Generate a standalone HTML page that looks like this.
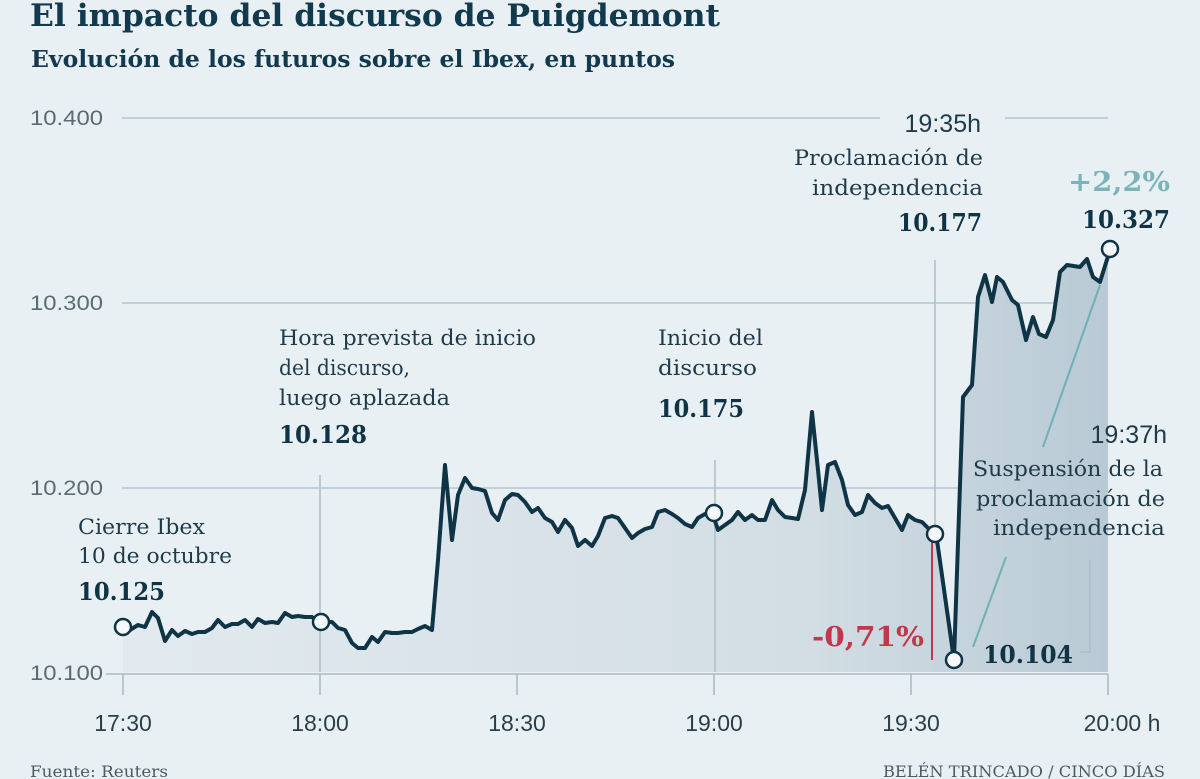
<!DOCTYPE html>
<html><head><meta charset="utf-8"><style>
html,body{margin:0;padding:0;background:#e9f0f4;}
svg{display:block}
.ser{font-family:"DejaVu Serif","Liberation Serif",serif;}
.san{font-family:"Liberation Sans","DejaVu Sans",sans-serif;}
</style></head><body>
<svg width="1200" height="779" viewBox="0 0 1200 779" xmlns="http://www.w3.org/2000/svg">
<defs>
<linearGradient id="g" x1="0" x2="1" y1="0" y2="0">
<stop offset="0" stop-color="#e2eaef"/><stop offset="0.7" stop-color="#d2dde4"/><stop offset="1" stop-color="#b9cad5"/>
</linearGradient>
</defs>
<rect width="1200" height="779" fill="#e9f0f4"/>
<text class="ser" x="30" y="26" font-size="31" font-weight="bold" fill="#123a4f" textLength="690" lengthAdjust="spacingAndGlyphs">El impacto del discurso de Puigdemont</text>
<text class="ser" x="31" y="67" font-size="23" font-weight="bold" fill="#123a4f" textLength="644" lengthAdjust="spacingAndGlyphs">Evolución de los futuros sobre el Ibex, en puntos</text>

<g stroke="#b3c5cf" stroke-width="1.5">
<line x1="122" y1="118" x2="880" y2="118"/><line x1="1005" y1="118" x2="1108" y2="118"/>
<line x1="122" y1="303" x2="1108" y2="303"/>
<line x1="122" y1="488" x2="1108" y2="488"/>
</g>
<g class="san" font-size="21" fill="#5a6b74">
<text x="30" y="125" textLength="73" lengthAdjust="spacingAndGlyphs">10.400</text><text x="30" y="310" textLength="73" lengthAdjust="spacingAndGlyphs">10.300</text><text x="30" y="495" textLength="73" lengthAdjust="spacingAndGlyphs">10.200</text><text x="30" y="680" textLength="73" lengthAdjust="spacingAndGlyphs">10.100</text>
</g>

<path fill="url(#g)" d="M123,627 L130,630 L138,625 L145,627 L152,612 L158,618 L165,641 L172,630 L178,636 L185,631 L192,634 L198,632 L205,632 L212,628 L218,620 L225,627 L232,624 L238,624 L245,620 L252,627 L258,619 L265,623 L272,622 L278,623 L285,613 L292,617 L298,616 L305,617 L312,617 L318,622 L325,622 L332,622 L338,628 L345,630 L352,643 L358,648 L365,648 L372,637 L378,642 L385,632 L392,633 L398,633 L405,632 L412,632 L418,629 L425,626 L432,630 L438,560 L445,465 L452,540 L458,495 L465,478 L472,488 L478,489 L485,491 L492,513 L498,520 L505,500 L512,494 L518,495 L525,502 L532,512 L538,508 L545,518 L552,522 L558,532 L565,520 L572,528 L578,546 L585,540 L592,546 L598,536 L605,518 L612,516 L618,518 L625,528 L632,538 L638,533 L645,529 L652,527 L658,512 L665,510 L672,514 L678,518 L685,524 L692,527 L698,518 L705,514 L712,512 L718,530 L725,525 L732,520 L738,512 L745,520 L752,515 L758,520 L765,520 L772,500 L778,510 L785,517 L792,518 L798,519 L805,490 L812,412 L818,470 L822,510 L828,465 L835,462 L842,480 L848,505 L855,515 L862,512 L868,495 L875,503 L882,508 L888,506 L895,518 L902,530 L908,515 L915,520 L922,522 L928,528 L936,533 L954,660 L963,397 L972,385 L978,297 L985,275 L992,302 L997,277 L1003,282 L1012,300 L1018,305 L1026,340 L1033,317 L1039,334 L1046,337 L1053,320 L1060,272 L1067,265 L1080,267 L1087,259 L1093,277 L1100,282 L1108,258 L1108,672 L123,672 Z"/>

<g stroke="#b0bec6" stroke-width="1.5" fill="none">
<line x1="320" y1="475" x2="320" y2="672"/>
<line x1="715" y1="460" x2="715" y2="672"/>
<line x1="935" y1="260" x2="935" y2="530"/>
<polyline points="1090,560 1090,652 1080,652"/>
</g>
<line x1="932" y1="540" x2="932" y2="660" stroke="#c0394b" stroke-width="2"/>
<g stroke="#6fb0b5" stroke-width="2">
<line x1="1043" y1="447" x2="1100" y2="285"/>
<line x1="973" y1="647" x2="1006" y2="557"/>
</g>

<g stroke="#aab9c2" stroke-width="1.5">
<line x1="106" y1="674" x2="1108" y2="674"/>
<line x1="123" y1="674" x2="123" y2="695"/><line x1="320" y1="674" x2="320" y2="695"/><line x1="517" y1="674" x2="517" y2="695"/><line x1="714" y1="674" x2="714" y2="695"/><line x1="911" y1="674" x2="911" y2="695"/><line x1="1108" y1="674" x2="1108" y2="695"/>
</g>
<g class="san" font-size="23" fill="#2b3f4b" text-anchor="middle">
<text x="123" y="731">17:30</text><text x="320" y="731">18:00</text><text x="517" y="731">18:30</text><text x="714" y="731">19:00</text><text x="911" y="731">19:30</text><text x="1122" y="731">20:00 h</text>
</g>

<path fill="none" stroke="#0e3446" stroke-width="4" stroke-linejoin="round" d="M123,627 L130,630 L138,625 L145,627 L152,612 L158,618 L165,641 L172,630 L178,636 L185,631 L192,634 L198,632 L205,632 L212,628 L218,620 L225,627 L232,624 L238,624 L245,620 L252,627 L258,619 L265,623 L272,622 L278,623 L285,613 L292,617 L298,616 L305,617 L312,617 L318,622 L325,622 L332,622 L338,628 L345,630 L352,643 L358,648 L365,648 L372,637 L378,642 L385,632 L392,633 L398,633 L405,632 L412,632 L418,629 L425,626 L432,630 L438,560 L445,465 L452,540 L458,495 L465,478 L472,488 L478,489 L485,491 L492,513 L498,520 L505,500 L512,494 L518,495 L525,502 L532,512 L538,508 L545,518 L552,522 L558,532 L565,520 L572,528 L578,546 L585,540 L592,546 L598,536 L605,518 L612,516 L618,518 L625,528 L632,538 L638,533 L645,529 L652,527 L658,512 L665,510 L672,514 L678,518 L685,524 L692,527 L698,518 L705,514 L712,512 L718,530 L725,525 L732,520 L738,512 L745,520 L752,515 L758,520 L765,520 L772,500 L778,510 L785,517 L792,518 L798,519 L805,490 L812,412 L818,470 L822,510 L828,465 L835,462 L842,480 L848,505 L855,515 L862,512 L868,495 L875,503 L882,508 L888,506 L895,518 L902,530 L908,515 L915,520 L922,522 L928,528 L936,533 L954,660 L963,397 L972,385 L978,297 L985,275 L992,302 L997,277 L1003,282 L1012,300 L1018,305 L1026,340 L1033,317 L1039,334 L1046,337 L1053,320 L1060,272 L1067,265 L1080,267 L1087,259 L1093,277 L1100,282 L1110,250"/>

<g fill="#f4f8fa" stroke="#0e3446" stroke-width="2.5">
<circle cx="123" cy="627" r="8"/><circle cx="321" cy="622" r="8"/><circle cx="714" cy="513" r="8"/><circle cx="935" cy="534" r="8"/><circle cx="954" cy="660" r="8"/><circle cx="1110" cy="249" r="8"/>
</g>

<g class="ser" font-size="21" fill="#1f3b4a" lengthAdjust="spacingAndGlyphs">
<text x="78" y="534" textLength="127" lengthAdjust="spacingAndGlyphs">Cierre Ibex</text><text x="78" y="563" textLength="154" lengthAdjust="spacingAndGlyphs">10 de octubre</text>
<text x="279" y="345" textLength="257" lengthAdjust="spacingAndGlyphs">Hora prevista de inicio</text><text x="279" y="375" textLength="131" lengthAdjust="spacingAndGlyphs">del discurso,</text><text x="279" y="405" textLength="171" lengthAdjust="spacingAndGlyphs">luego aplazada</text>
<text x="658" y="345" textLength="105" lengthAdjust="spacingAndGlyphs">Inicio del</text><text x="658" y="375" textLength="99" lengthAdjust="spacingAndGlyphs">discurso</text>
<text x="794" y="165" textLength="189" lengthAdjust="spacingAndGlyphs">Proclamación de</text><text x="812" y="195" textLength="171" lengthAdjust="spacingAndGlyphs">independencia</text>
<text x="973" y="476" textLength="190" lengthAdjust="spacingAndGlyphs">Suspensión de la</text><text x="976" y="506" textLength="189" lengthAdjust="spacingAndGlyphs">proclamación de</text><text x="993" y="535" textLength="172" lengthAdjust="spacingAndGlyphs">independencia</text>
</g>
<g class="ser" font-size="24" font-weight="bold" fill="#0e3446">
<text x="78" y="600" textLength="87" lengthAdjust="spacingAndGlyphs">10.125</text>
<text x="279" y="443" textLength="88" lengthAdjust="spacingAndGlyphs">10.128</text>
<text x="658" y="417" textLength="86" lengthAdjust="spacingAndGlyphs">10.175</text>
<text x="898" y="231" textLength="84" lengthAdjust="spacingAndGlyphs">10.177</text>
<text x="1082" y="228" textLength="88" lengthAdjust="spacingAndGlyphs">10.327</text>
<text x="983" y="663" textLength="90" lengthAdjust="spacingAndGlyphs">10.104</text>
</g>
<g class="san" font-size="25" fill="#1f3b4a">
<text x="981" y="132" text-anchor="end">19:35h</text>
<text x="1167" y="443" text-anchor="end">19:37h</text>
</g>
<text class="ser" x="1068" y="191" font-size="27" font-weight="bold" fill="#7ab4b8" textLength="102" lengthAdjust="spacingAndGlyphs">+2,2%</text>
<text class="ser" x="812" y="646" font-size="27" font-weight="bold" fill="#c0394b" textLength="112" lengthAdjust="spacingAndGlyphs">-0,71%</text>

<text class="ser" x="30" y="777" font-size="16" fill="#4a5b64" textLength="138" lengthAdjust="spacingAndGlyphs">Fuente: Reuters</text>
<text class="ser" x="883" y="777" font-size="16" fill="#4a5b64" textLength="282" lengthAdjust="spacingAndGlyphs">BELÉN TRINCADO / CINCO DÍAS</text>
</svg>
</body></html>
